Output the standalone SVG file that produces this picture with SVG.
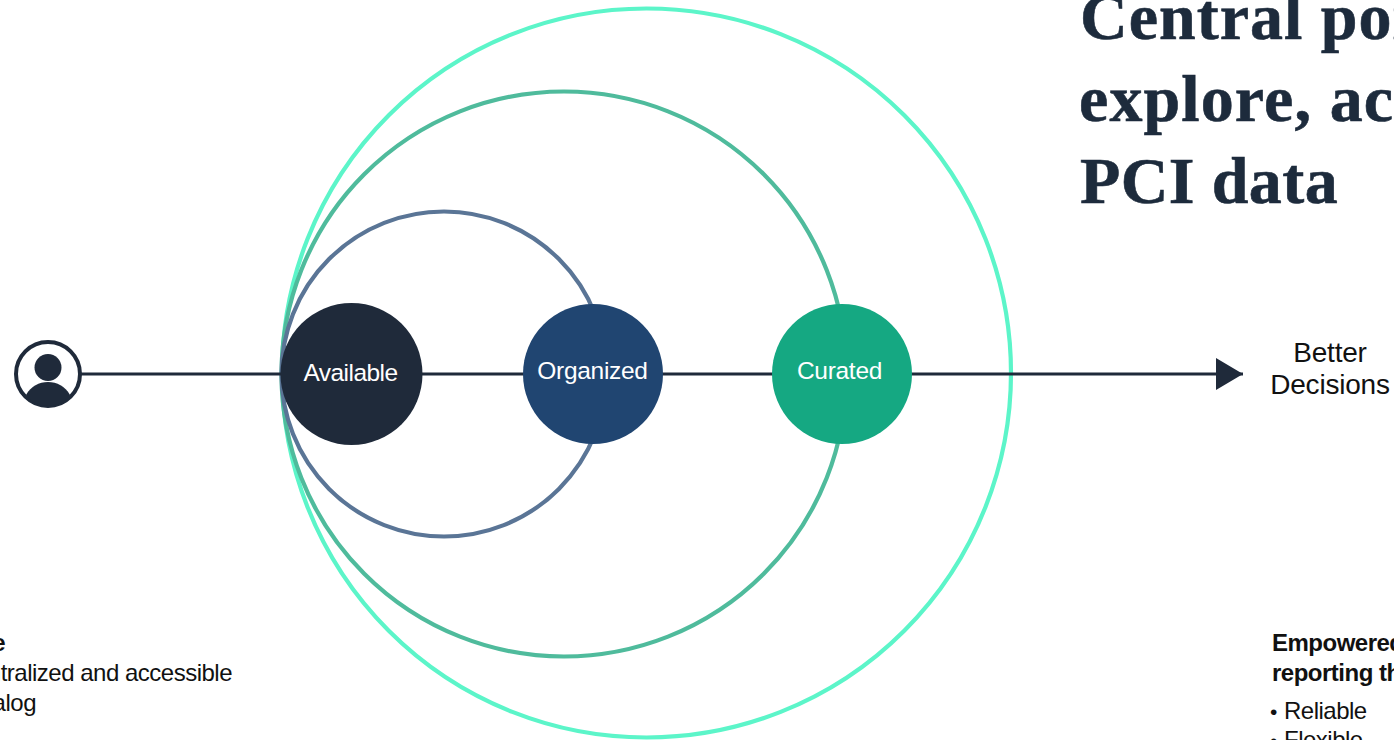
<svg xmlns="http://www.w3.org/2000/svg" width="1394" height="740" viewBox="0 0 1394 740">
<style>
.ring{fill:none;stroke-width:4.2}
.link{stroke:#1f2a3a;stroke-width:3;fill:none}
.ink{fill:#1f2a3a}
.title{font:bold 66px "Liberation Serif",serif;fill:#1d2b3c;stroke:#1d2b3c;stroke-width:.6px;letter-spacing:1px}
.lab{font:24.500px "Liberation Sans",Arial,sans-serif;fill:#fff;text-anchor:middle;letter-spacing:-.3px}
.body{font:24px "Liberation Sans",Arial,sans-serif;fill:#111;letter-spacing:-.5px}
.big{font-size:28px;text-anchor:middle;letter-spacing:-.2px}
.bold{font-weight:bold}
.dot{font-size:21px}
</style>
<defs><marker id="arrow" markerUnits="userSpaceOnUse" markerWidth="28" markerHeight="32" refX="27" refY="16" orient="auto"><path d="M0 0L27 16L0 32Z" fill="#1f2a3a"/></marker></defs>
<rect width="1394" height="740" fill="#fff"/>
<g id="rings">
<circle class="ring" cx="646.500" cy="373" r="364.500" stroke="#5cf5c9"/>
<circle class="ring" cx="564" cy="374" r="282.500" stroke="#4fbb9c"/>
<circle class="ring" cx="444" cy="374" r="162.500" stroke="#5a7596"/>
</g>
<g id="connectors"><path class="link" d="M80 374H1243" marker-end="url(#arrow)"/></g>
<g id="user"><circle cx="48" cy="374" r="32" fill="#fff" stroke="#1f2a3a" stroke-width="4"/><circle class="ink" cx="48" cy="367.500" r="13.500"/><path class="ink" d="M26 395C31 386 39 382 48 382C57 382 65 386 70 395C65 402 57 406 48 406C39 406 31 402 26 395Z"/></g>
<g id="available"><circle cx="351.500" cy="374" r="71" fill="#1f2a3a"/><text class="lab" x="350.500" y="381" style="letter-spacing:-.55px">Available</text></g>
<g id="organized"><circle cx="593" cy="374" r="70" fill="#204571"/><text class="lab" x="592.500" y="379">Organized</text></g>
<g id="curated"><circle cx="842" cy="374" r="70" fill="#15a882"/><text class="lab" x="839.500" y="379">Curated</text></g>
<g id="better"><text class="body big" x="1330" y="362">Better</text><text class="body big" x="1330" y="394">Decisions</text></g>
<g id="heading"><text class="title" x="1080" y="39">Central point to</text><text class="title" x="1079" y="121" style="letter-spacing:1.1px">explore, access</text><text class="title" x="1080" y="203" style="letter-spacing:.4px">PCI data</text></g>
<g id="left-note"><text class="body bold" x="5" y="651" text-anchor="end">Available</text><text class="body" x="232" y="681" text-anchor="end">Centralized and accessible</text><text class="body" x="36" y="711" text-anchor="end">data catalog</text></g>
<g id="right-note"><text class="body bold" x="1272" y="651">Empowered</text><text class="body bold" x="1272" y="681">reporting through</text><text class="body" x="1270" y="719"><tspan class="dot">•</tspan><tspan x="1284">Reliable</tspan></text><text class="body" x="1270" y="748"><tspan class="dot">•</tspan><tspan x="1284">Flexible</tspan></text></g>
</svg>
